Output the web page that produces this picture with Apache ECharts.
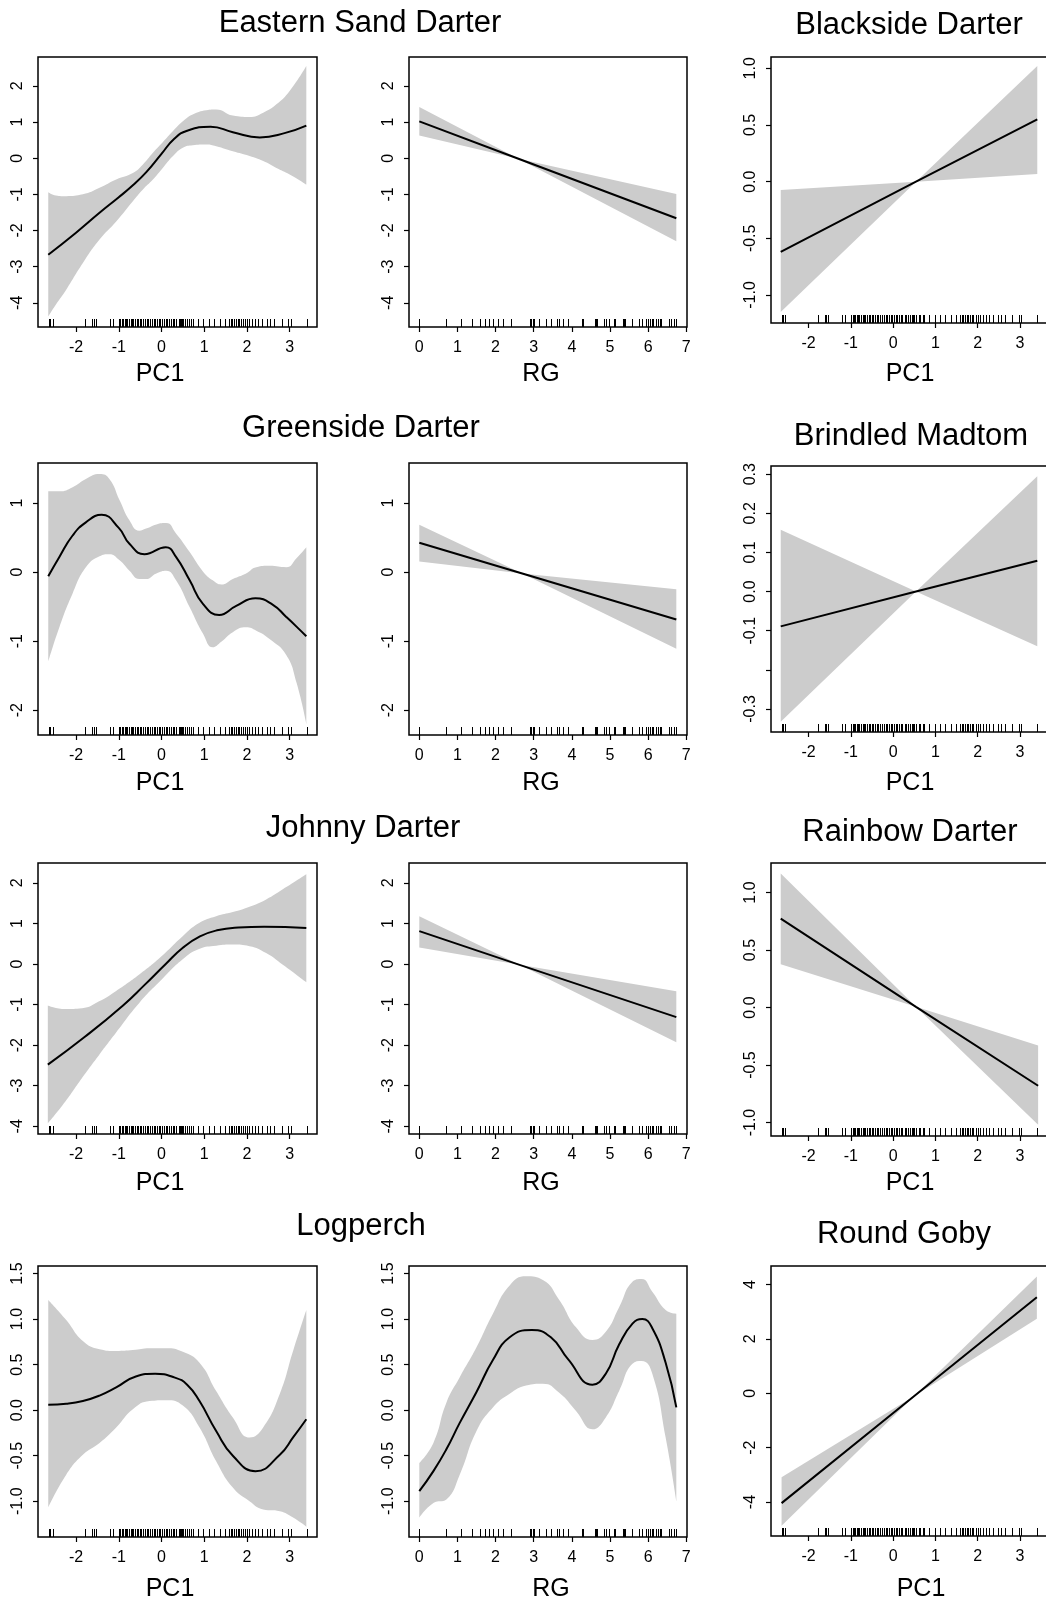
<!DOCTYPE html>
<html>
<head>
<meta charset="utf-8">
<title>Partial effects of PC1 and RG</title>
<script src="https://cdn.jsdelivr.net/npm/echarts@6/dist/echarts.min.js"></script>
<style>
  html, body { margin: 0; padding: 0; background: #fff; }
  #main { width: 1046px; height: 1604px; }
</style>
</head>
<body>
<div id="main"></div>
<script>
// rug positions (observed covariate values)
const pc1Rug = [-2.64, -2.6, -2.55, -1.78, -1.62, -1.58, -1.53, -1.2, -1.14, -0.99, -0.96, -0.93, -0.9,
  -0.86, -0.83, -0.8, -0.76, -0.72, -0.69, -0.66, -0.62, -0.58, -0.55, -0.5, -0.47, -0.43, -0.39, -0.35,
  -0.31, -0.27, -0.22, -0.18, -0.14, -0.1, -0.06, -0.03, 0.02, 0.06, 0.1, 0.14, 0.18, 0.22, 0.27, 0.3,
  0.34, 0.4, 0.44, 0.46, 0.48, 0.5, 0.55, 0.6, 0.64, 0.7, 0.74, 0.86, 0.98, 1.12, 1.22, 1.38, 1.48, 1.58,
  1.62, 1.66, 1.7, 1.74, 1.78, 1.82, 1.86, 1.9, 1.95, 2.0, 2.06, 2.12, 2.2, 2.26, 2.36, 2.48, 2.54, 2.64,
  2.82, 2.97, 3.03, 3.4];
const rgRug = [0, 0.7, 1.09, 1.37, 1.6, 1.71, 1.83, 1.93, 2.06, 2.19, 2.41, 2.89, 2.92, 2.94, 2.98, 3.0,
  3.15, 3.31, 3.46, 3.6, 3.66, 3.76, 3.89, 4.26, 4.3, 4.6, 4.61, 4.63, 4.65, 4.66, 4.85, 4.89, 4.98, 5.11,
  5.13, 5.33, 5.34, 5.36, 5.38, 5.4, 5.59, 5.76, 5.85, 5.94, 5.99, 6.04, 6.09, 6.14, 6.2, 6.25, 6.3, 6.35,
  6.54, 6.61, 6.68, 6.74];

// Eastern Sand Darter
const esdPcFitX = [-2.65, -2.0, -1.45, -1.0, -0.67, -0.35, 0.0, 0.3, 0.6, 1.15, 1.67, 2.3, 2.9, 3.39];
const esdPcFit  = [-2.67, -2.06, -1.51, -1.08, -0.75, -0.38, 0.12, 0.54, 0.76, 0.87, 0.72, 0.575, 0.7, 0.9];
const esdPcX    = [-2.65, -2.47, -2.23, -1.84, -1.45, -1.06, -0.67, -0.44, -0.2, 0.03, 0.27, 0.5, 0.73, 1.05, 1.28, 1.67, 2.06, 2.38, 2.69, 3.0, 3.39];
const esdPcUp   = [-0.94, -1.03, -1.05, -1.0, -0.82, -0.59, -0.41, -0.18, 0.15, 0.44, 0.75, 1.02, 1.21, 1.33, 1.35, 1.18, 1.14, 1.26, 1.49, 1.86, 2.55];
const esdPcLo   = [-4.38, -4.05, -3.64, -2.9, -2.25, -1.75, -1.19, -0.87, -0.59, -0.27, 0.06, 0.29, 0.36, 0.38, 0.33, 0.19, 0.06, -0.08, -0.27, -0.45, -0.73];
const esdRgX   = [0, 2.6, 6.74];
const esdRgFit = [1.02, -0.014, -1.66];
const esdRgUp  = [1.42, -0.014, -0.99];
const esdRgLo  = [0.63, -0.014, -2.3];

// Blackside Darter
const bsdX   = [-2.66, 0.54, 3.41];
const bsdFit = [-0.62, 0.0, 0.55];
const bsdUp  = [-0.074, 0.0, 1.02];
const bsdLo  = [-1.15, 0.0, 0.068];

// Greenside Darter
const gsdPcFitX = [-2.65, -2.39, -2.08, -1.77, -1.4, -1.0, -0.75, -0.4, 0.1, 0.34, 0.66, 0.97, 1.35, 1.75, 2.2, 2.6, 2.92, 3.16, 3.39];
const gsdPcFit  = [-0.06, 0.22, 0.53, 0.72, 0.83, 0.64, 0.41, 0.26, 0.36, 0.22, -0.12, -0.46, -0.62, -0.49, -0.38, -0.47, -0.65, -0.79, -0.93];
const gsdPcX    = [-2.65, -2.39, -2.08, -1.77, -1.45, -1.22, -0.98, -0.75, -0.52, -0.36, -0.12, 0.11, 0.34, 0.66, 0.97, 1.2, 1.4, 1.67, 1.98, 2.22, 2.53, 2.92, 3.16, 3.39];
const gsdPcUp   = [1.17, 1.17, 1.23, 1.35, 1.42, 1.35, 1.04, 0.75, 0.6, 0.63, 0.69, 0.71, 0.56, 0.29, 0.01, -0.12, -0.18, -0.1, -0.02, 0.07, 0.09, 0.07, 0.2, 0.36];
const gsdPcLo   = [-1.3, -0.8, -0.31, 0.07, 0.23, 0.26, 0.17, 0.02, -0.1, -0.1, -0.02, 0.02, -0.12, -0.51, -0.89, -1.09, -1.01, -0.87, -0.8, -0.85, -0.97, -1.2, -1.6, -2.2];
const gsdRgX   = [0, 2.7, 6.74];
const gsdRgFit = [0.425, -0.02, -0.686];
const gsdRgUp  = [0.686, -0.02, -0.25];
const gsdRgLo  = [0.155, -0.02, -1.11];

// Brindled Madtom
const bmX   = [-2.66, 0.54, 3.41];
const bmFit = [-0.089, 0.0, 0.079];
const bmUp  = [0.158, 0.0, 0.295];
const bmLo  = [-0.333, 0.0, -0.14];

// Johnny Darter
const jdPcFitX = [-2.66, -1.8, -0.9, -0.4, 0.1, 0.5, 0.9, 1.3, 1.8, 2.4, 3.39];
const jdPcFit  = [-2.48, -1.8, -1.02, -0.52, 0.0, 0.4, 0.68, 0.83, 0.9, 0.92, 0.89];
const jdPcX    = [-2.66, -2.25, -1.86, -1.46, -1.07, -0.52, 0.0, 0.49, 0.88, 1.28, 1.67, 2.06, 2.45, 2.84, 3.39];
const jdPcUp   = [-1.02, -1.11, -1.09, -0.92, -0.67, -0.26, 0.19, 0.68, 1.01, 1.18, 1.28, 1.41, 1.59, 1.84, 2.21];
const jdPcLo   = [-3.93, -3.39, -2.81, -2.24, -1.7, -0.96, -0.39, 0.11, 0.37, 0.45, 0.48, 0.44, 0.27, -0.02, -0.45];
const jdRgX   = [0, 2.63, 6.74];
const jdRgFit = [0.81, -0.02, -1.31];
const jdRgUp  = [1.18, -0.02, -0.67];
const jdRgLo  = [0.41, -0.02, -1.93];

// Rainbow Darter
const rdX   = [-2.66, 0.54, 3.43];
const rdFit = [0.774, 0.006, -0.68];
const rdUp  = [1.165, 0.006, -0.33];
const rdLo  = [0.377, 0.006, -1.02];

// Logperch
const lpPcFitX = [-2.65, -2.23, -1.84, -1.45, -1.06, -0.6, -0.15, 0.3, 0.6, 0.89, 1.28, 1.67, 2.2, 2.77, 3.08, 3.39];
const lpPcFit  = [0.06, 0.07, 0.1, 0.16, 0.25, 0.37, 0.4, 0.36, 0.28, 0.1, -0.23, -0.5, -0.67, -0.49, -0.3, -0.1];
const lpPcX    = [-2.65, -2.23, -1.84, -1.45, -1.06, -0.67, -0.28, 0.11, 0.5, 0.89, 1.28, 1.67, 2.06, 2.38, 2.77, 3.08, 3.39];
const lpPcUp   = [1.21, 0.99, 0.76, 0.67, 0.65, 0.66, 0.68, 0.68, 0.64, 0.52, 0.21, -0.08, -0.3, -0.19, 0.18, 0.65, 1.1];
const lpPcLo   = [-1.07, -0.71, -0.49, -0.36, -0.19, 0.01, 0.1, 0.11, 0.05, -0.19, -0.56, -0.85, -1.0, -1.09, -1.11, -1.18, -1.28];
const lpRgFitX = [0, 0.37, 0.71, 1.06, 1.5, 1.93, 2.37, 2.95, 3.45, 3.9, 4.54, 4.89, 5.24, 5.59, 5.85, 6.11, 6.46, 6.74];
const lpRgFit  = [-0.89, -0.67, -0.43, -0.14, 0.2, 0.55, 0.8, 0.88, 0.8, 0.56, 0.28, 0.4, 0.72, 0.95, 1.0, 0.9, 0.52, 0.03];
const lpRgX    = [0, 0.37, 0.71, 1.06, 1.5, 1.93, 2.37, 2.8, 3.24, 3.67, 4.11, 4.54, 4.89, 5.24, 5.59, 5.83, 6.11, 6.46, 6.74];
const lpRgUp   = [-0.58, -0.36, 0.08, 0.36, 0.69, 1.06, 1.37, 1.47, 1.43, 1.21, 0.91, 0.77, 0.86, 1.13, 1.41, 1.44, 1.3, 1.1, 1.06];
const lpRgLo   = [-1.18, -1.02, -0.98, -0.71, -0.23, 0.03, 0.18, 0.27, 0.29, 0.19, -0.01, -0.21, -0.08, 0.21, 0.51, 0.54, 0.4, -0.3, -1.0];

// Round Goby
const rgbX   = [-2.64, 0.5, 3.4];
const rgbFit = [-4.04, -0.1, 3.53];
const rgbUp  = [-3.09, -0.1, 4.29];
const rgbLo  = [-4.87, -0.1, 2.74];

// tick values
const pc1Ticks = [-2, -1, 0, 1, 2, 3];
const rgTicks = [0, 1, 2, 3, 4, 5, 6, 7];
const yTicksWide = [-4, -3, -2, -1, 0, 1, 2];
const yTicksGsd = [-2, -1, 0, 1];
const yTicksHalf = [-1, -0.5, 0, 0.5, 1];
const yTicksLp = [-1, -0.5, 0, 0.5, 1, 1.5];
const yTicksBm = [-0.3, -0.2, -0.1, 0, 0.1, 0.2, 0.3];
const yLabelsBm = [-0.3, -0.1, 0, 0.1, 0.2, 0.3];
const yTicksGoby = [-4, -2, 0, 2, 4];

const titles = ['Eastern Sand Darter', 'Blackside Darter', 'Greenside Darter', 'Brindled Madtom',
  'Johnny Darter', 'Rainbow Darter', 'Logperch', 'Round Goby'];

// layout
const FONT = '"Liberation Sans", Arial, Helvetica, sans-serif';
const colLeft = [38, 409, 771];
const colWidth = [279, 278, 276];
const rowBox = [[57, 327], [463, 735], [863, 1134], [1266, 1537]];
const rowBox3 = [[57, 323], [466, 732], [863, 1136], [1266, 1536]];
const titlePos = [[360, 23], [909, 25], [361, 428], [911, 436], [363, 828], [910, 832], [361, 1226], [904, 1234]];
const axisNameY = [374, 783, 1183, 1589];
const axisNameX = [[160, 541, 910], [160, 541, 910], [160, 541, 910], [170, 551, 921]];

const PC1_RANGE = [-2.89, 3.64];
const RG_RANGE = [-0.27, 7.02];

const panels = [
  { row: 0, col: 0, fx: esdPcFitX, x: esdPcX, fit: esdPcFit, up: esdPcUp, lo: esdPcLo, smooth: true, y: [-4.67, 2.8], yt: yTicksWide, dec: false },
  { row: 0, col: 1, x: esdRgX, fit: esdRgFit, up: esdRgUp, lo: esdRgLo, smooth: false, y: [-4.67, 2.8], yt: yTicksWide, dec: false },
  { row: 0, col: 2, x: bsdX, fit: bsdFit, up: bsdUp, lo: bsdLo, smooth: false, y: [-1.247, 1.1], yt: yTicksHalf, dec: true },
  { row: 1, col: 0, fx: gsdPcFitX, x: gsdPcX, fit: gsdPcFit, up: gsdPcUp, lo: gsdPcLo, smooth: true, y: [-2.36, 1.58], yt: yTicksGsd, dec: false },
  { row: 1, col: 1, x: gsdRgX, fit: gsdRgFit, up: gsdRgUp, lo: gsdRgLo, smooth: false, y: [-2.36, 1.58], yt: yTicksGsd, dec: false },
  { row: 1, col: 2, x: bmX, fit: bmFit, up: bmUp, lo: bmLo, smooth: false, y: [-0.359, 0.321], yt: yTicksBm, yl: yLabelsBm, dec: true },
  { row: 2, col: 0, fx: jdPcFitX, x: jdPcX, fit: jdPcFit, up: jdPcUp, lo: jdPcLo, smooth: true, y: [-4.19, 2.49], yt: yTicksWide, dec: false },
  { row: 2, col: 1, x: jdRgX, fit: jdRgFit, up: jdRgUp, lo: jdRgLo, smooth: false, y: [-4.19, 2.49], yt: yTicksWide, dec: false },
  { row: 2, col: 2, x: rdX, fit: rdFit, up: rdUp, lo: rdLo, smooth: false, y: [-1.117, 1.257], yt: yTicksHalf, dec: true },
  { row: 3, col: 0, fx: lpPcFitX, x: lpPcX, fit: lpPcFit, up: lpPcUp, lo: lpPcLo, smooth: true, y: [-1.393, 1.583], yt: yTicksLp, dec: true },
  { row: 3, col: 1, fx: lpRgFitX, x: lpRgX, fit: lpRgFit, up: lpRgUp, lo: lpRgLo, smooth: true, y: [-1.393, 1.583], yt: yTicksLp, dec: true },
  { row: 3, col: 2, x: rgbX, fit: rgbFit, up: rgbUp, lo: rgbLo, smooth: false, y: [-5.25, 4.68], yt: yTicksGoby, dec: false }
];

const grids = [], xAxes = [], yAxes = [], series = [], graphics = [];

panels.forEach((p, i) => {
  const box = p.col === 2 ? rowBox3[p.row] : rowBox[p.row];
  const isRG = p.col === 1;
  const xr = isRG ? RG_RANGE : PC1_RANGE;
  const xt = isRG ? rgTicks : pc1Ticks;
  const fitX = p.fx || p.x;

  grids.push({
    left: colLeft[p.col], top: box[0], width: colWidth[p.col], height: box[1] - box[0],
    show: true, borderColor: '#000', borderWidth: 1.5, backgroundColor: 'transparent',
    outerBoundsMode: 'none', containLabel: false
  });

  xAxes.push({
    type: 'value', gridIndex: i, min: xr[0], max: xr[1], position: 'bottom',
    axisLine: { show: false, onZero: false }, splitLine: { show: false },
    axisTick: { show: true, inside: false, length: 5, lineStyle: { color: '#000', width: 1.2 }, customValues: xt },
    axisLabel: { customValues: xt, margin: 13, fontSize: 16, color: '#000', fontFamily: FONT,
      formatter: v => String(v) }
  });

  yAxes.push({
    type: 'value', gridIndex: i, min: p.y[0], max: p.y[1], position: 'left',
    axisLine: { show: false, onZero: false }, splitLine: { show: false },
    axisTick: { show: true, inside: false, length: 5, lineStyle: { color: '#000', width: 1.2 }, customValues: p.yt },
    axisLabel: { customValues: p.yl || p.yt, margin: 12, rotate: 90, fontSize: 16, color: '#000', fontFamily: FONT,
      formatter: v => p.dec ? Number(v).toFixed(1) : String(Math.round(v)) }
  });

  // confidence band: lower edge + stacked width; y is put in dimension 0 so it is the stacked one
  const stackId = 'band' + i;
  series.push({
    type: 'line', xAxisIndex: i, yAxisIndex: i, stack: stackId, stackStrategy: 'all',
    encode: { x: 1, y: 0 },
    data: p.x.map((v, k) => [p.lo[k], v]), symbol: 'none', smooth: p.smooth,
    lineStyle: { opacity: 0 }, silent: true, z: 1
  });
  series.push({
    type: 'line', xAxisIndex: i, yAxisIndex: i, stack: stackId, stackStrategy: 'all',
    encode: { x: 1, y: 0 },
    data: p.x.map((v, k) => [p.up[k] - p.lo[k], v]), symbol: 'none', smooth: p.smooth,
    lineStyle: { opacity: 0 }, areaStyle: { color: '#cccccc', opacity: 1 }, silent: true, z: 1
  });

  // rug
  const yMin = p.y[0];
  series.push({
    type: 'custom', xAxisIndex: i, yAxisIndex: i, silent: true, z: 3,
    data: (isRG ? rgRug : pc1Rug).map(v => [v, yMin]),
    renderItem: (params, api) => {
      const pt = api.coord([api.value(0), yMin]);
      const xx = Math.round(pt[0]) + 0.5;
      return { type: 'line', shape: { x1: xx, y1: pt[1], x2: xx, y2: pt[1] - 8 },
        style: { stroke: '#000', lineWidth: 1 } };
    }
  });

  // fitted smooth
  series.push({
    type: 'line', xAxisIndex: i, yAxisIndex: i, data: fitX.map((v, k) => [v, p.fit[k]]),
    symbol: 'none', smooth: p.smooth, lineStyle: { color: '#000', width: 2 }, silent: true, z: 4
  });

  graphics.push({
    type: 'text', x: axisNameX[p.row][p.col], y: axisNameY[p.row],
    style: { text: isRG ? 'RG' : 'PC1', fontSize: 25, fontFamily: FONT, fill: '#000',
      align: 'center', verticalAlign: 'middle' }
  });
});

titles.forEach((t, k) => {
  graphics.push({
    type: 'text', x: titlePos[k][0], y: titlePos[k][1],
    style: { text: t, fontSize: 31, fontFamily: FONT, fill: '#000', align: 'center', verticalAlign: 'middle' }
  });
});

const chart = echarts.init(document.getElementById('main'), null, { renderer: 'canvas', width: 1046, height: 1604 });
chart.setOption({
  animation: false,
  backgroundColor: '#fff',
  grid: grids,
  xAxis: xAxes,
  yAxis: yAxes,
  series: series,
  graphic: graphics
});
</script>
</body>
</html>
